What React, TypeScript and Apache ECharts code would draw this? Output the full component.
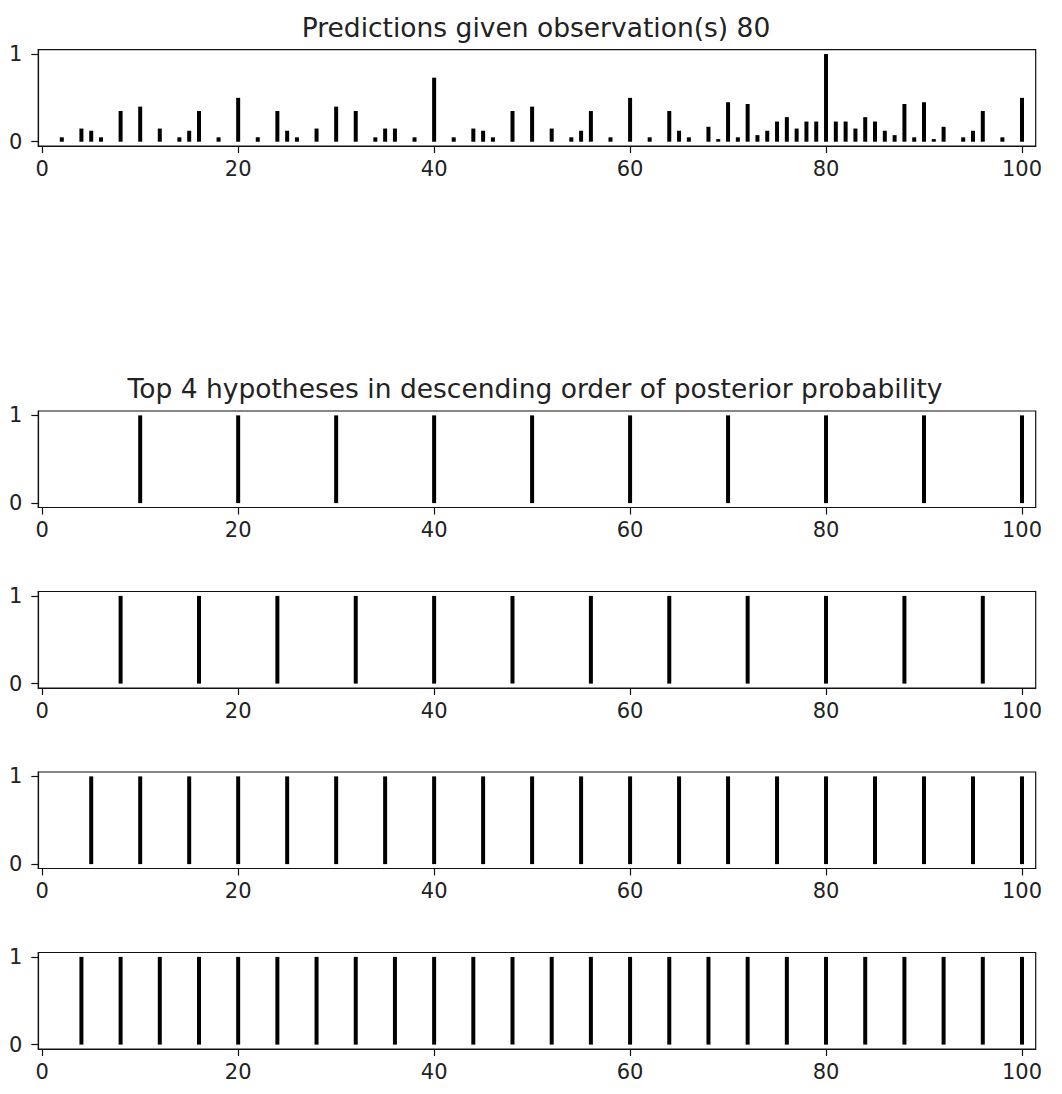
import React, { useEffect, useRef } from "react";
import * as echarts from "echarts";

// Predictive distribution given observation 80
const predX = [2, 4, 5, 6, 8, 10, 12, 14, 15, 16, 18, 20, 22, 24, 25, 26, 28, 30, 32, 34, 35, 36, 38, 40, 42, 44, 45, 46, 48, 50, 52, 54, 55, 56, 58, 60, 62, 64, 65, 66, 68, 69, 70, 71, 72, 73, 74, 75, 76, 77, 78, 79, 80, 81, 82, 83, 84, 85, 86, 87, 88, 89, 90, 91, 92, 94, 95, 96, 98, 100];
const predY = [0.05, 0.15, 0.125, 0.05, 0.35, 0.4, 0.15, 0.05, 0.125, 0.35, 0.05, 0.5, 0.05, 0.35, 0.125, 0.05, 0.15, 0.4, 0.35, 0.05, 0.15, 0.15, 0.05, 0.73, 0.05, 0.15, 0.125, 0.05, 0.35, 0.4, 0.15, 0.05, 0.125, 0.35, 0.05, 0.5, 0.05, 0.35, 0.125, 0.05, 0.17, 0.03, 0.45, 0.05, 0.43, 0.075, 0.125, 0.23, 0.28, 0.15, 0.23, 0.23, 1.0, 0.23, 0.23, 0.15, 0.28, 0.23, 0.125, 0.075, 0.43, 0.05, 0.45, 0.03, 0.17, 0.05, 0.125, 0.35, 0.05, 0.5];

// Top 4 hypotheses (member numbers, each with height 1)
const hyp1 = [10, 20, 30, 40, 50, 60, 70, 80, 90, 100];
const hyp2 = [8, 16, 24, 32, 40, 48, 56, 64, 72, 80, 88, 96];
const hyp3 = [5, 10, 15, 20, 25, 30, 35, 40, 45, 50, 55, 60, 65, 70, 75, 80, 85, 90, 95, 100];
const hyp4 = [4, 8, 12, 16, 20, 24, 28, 32, 36, 40, 44, 48, 52, 56, 60, 64, 68, 72, 76, 80, 84, 88, 92, 96, 100];

const xTicks = [0, 20, 40, 60, 80, 100];
const yTicks = [0, 1];

const title1 = "Predictions given observation(s) 80";
const title2 = "Top 4 hypotheses in descending order of posterior probability";

export default function App() {
  const ref = useRef<HTMLDivElement>(null);
  useEffect(() => {
    document.body.style.margin = "0";
    const chart = echarts.init(ref.current!, null, { renderer: "svg" });
    const FONT = "DejaVu Sans";
    const gridTops = [49.6, 411, 591.5, 772, 952.5];
    const left = 38.3;
    const width = 997.4;
    const height = 96.5;
    const dataSets = [
      predX.map((x, i) => [x, predY[i]]),
      hyp1.map((x) => [x, 1]),
      hyp2.map((x) => [x, 1]),
      hyp3.map((x) => [x, 1]),
      hyp4.map((x) => [x, 1]),
    ];
    const grids = gridTops.map((t) => ({
      left,
      top: t,
      width,
      height,
      show: true,
      borderColor: "#111",
      borderWidth: 1.2,
      backgroundColor: "transparent",
      containLabel: false,
    }));
    const xAxes = gridTops.map((_, i) => ({
      type: "value",
      gridIndex: i,
      min: -0.4,
      max: 101.4,
      splitLine: { show: false },
      axisLine: { show: true, onZero: false, lineStyle: { color: "#111", width: 1.2 } },
      axisTick: { show: true, length: 7, customValues: xTicks, lineStyle: { color: "#111", width: 1.2 } },
      axisLabel: { customValues: xTicks, fontSize: 21, fontFamily: FONT, color: "#222", margin: 12 },
    }));
    const yAxes = gridTops.map((_, i) => ({
      type: "value",
      gridIndex: i,
      min: -0.05,
      max: 1.05,
      splitLine: { show: false },
      axisLine: { show: true, onZero: false, lineStyle: { color: "#111", width: 1.2 } },
      axisTick: { show: true, length: 7, customValues: yTicks, lineStyle: { color: "#111", width: 1.2 } },
      axisLabel: { customValues: yTicks, fontSize: 21, fontFamily: FONT, color: "#222", margin: 16 },
    }));
    const series = dataSets.map((d, i) => ({
      type: "bar",
      xAxisIndex: i,
      yAxisIndex: i,
      data: d,
      barWidth: 4,
      itemStyle: { color: "#000" },
      silent: true,
    }));
    chart.setOption({
      animation: false,
      textStyle: { fontFamily: FONT },
      grid: grids,
      xAxis: xAxes,
      yAxis: yAxes,
      series,
      graphic: [
        {
          type: "text",
          x: 536,
          y: 27,
          style: { text: title1, fontSize: 26.5, fontFamily: FONT, fill: "#222", textAlign: "center", textVerticalAlign: "middle" },
        },
        {
          type: "text",
          x: 535,
          y: 388,
          style: { text: title2, fontSize: 26.5, fontFamily: FONT, fill: "#222", textAlign: "center", textVerticalAlign: "middle" },
        },
      ],
    });
    return () => chart.dispose();
  }, []);
  return <div ref={ref} style={{ width: 1062, height: 1094 }} />;
}
